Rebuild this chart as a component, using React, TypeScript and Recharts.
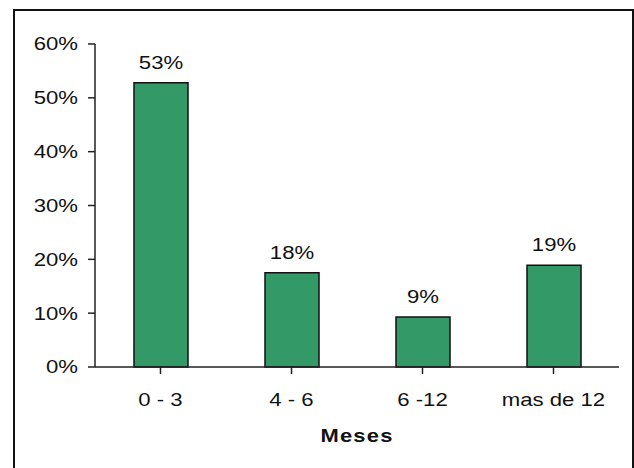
import React from "react";
import { BarChart, Bar, XAxis, YAxis, LabelList, Label } from "recharts";

const categories = ["0 - 3", "4 - 6", "6 -12", "mas de 12"];
const shares = [52.8, 17.5, 9.3, 18.9];
const yTicks = [0, 10, 20, 30, 40, 50, 60];

const data = categories.map((c, i) => ({ rango: c, valor: shares[i] }));

const FONT = "'Liberation Sans', Arial, sans-serif";
const STRETCH = 1.23;

function YTick({ x, y, payload }: any) {
  return (
    <g transform={`translate(${x},${y})`}>
      <text transform={`scale(${STRETCH},1)`} textAnchor="end" dy="0.36em"
        fontFamily={FONT} fontSize={18} fill="#111">
        {`${payload.value}%`}
      </text>
    </g>
  );
}

function XTick({ x, y, payload }: any) {
  return (
    <g transform={`translate(${x},${y})`}>
      <text transform={`scale(${STRETCH},1)`} textAnchor="middle" dy={20}
        fontFamily={FONT} fontSize={18} fill="#111">
        {payload.value}
      </text>
    </g>
  );
}

function BarValue({ x, y, width, value }: any) {
  return (
    <g transform={`translate(${x + width / 2},${y - 14})`}>
      <text transform={`scale(${STRETCH},1)`} textAnchor="middle"
        fontFamily={FONT} fontSize={18} fill="#111">
        {`${Math.round(value)}%`}
      </text>
    </g>
  );
}

function AxisTitle({ viewBox }: any) {
  const cx = viewBox.x + viewBox.width / 2;
  return (
    <g transform={`translate(${cx},442)`}>
      <text transform="scale(1.22,1)" textAnchor="middle" fontFamily={FONT}
        fontSize={18} fontWeight="bold" letterSpacing={1} fill="#111">
        Meses
      </text>
    </g>
  );
}

export default function App() {
  return (
    <div style={{ position: "absolute", left: 0, top: 0, width: 634, height: 468, background: "#fff", overflow: "hidden" }}>
      <div style={{
        position: "absolute", left: 13, top: 9, width: 617, height: 480,
        borderTop: "2px solid #111", borderLeft: "2px solid #111", borderRight: "2px solid #111",
      }} />
      <BarChart width={634} height={468} data={data}
        margin={{ top: 44, right: 15, left: 15, bottom: 41 }}
        style={{ position: "absolute", left: 0, top: 0 }}>
        <XAxis dataKey="rango" interval={0} height={60}
          axisLine={{ stroke: "#222", strokeWidth: 1.5 }}
          tickLine={{ stroke: "#222", strokeWidth: 1.5 }}
          tickSize={7} tickMargin={12} tick={<XTick />}>
          <Label content={<AxisTitle />} />
        </XAxis>
        <YAxis domain={[0, 60]} ticks={yTicks} width={80} interval={0}
          axisLine={{ stroke: "#222", strokeWidth: 1.5 }}
          tickLine={{ stroke: "#222", strokeWidth: 1.5 }}
          tickSize={7} tickMargin={10} tick={<YTick />} />
        <Bar dataKey="valor" fill="#339966" stroke="#111" strokeWidth={1.5}
          barSize={54} isAnimationActive={false}>
          <LabelList dataKey="valor" content={<BarValue />} />
        </Bar>
      </BarChart>
    </div>
  );
}
